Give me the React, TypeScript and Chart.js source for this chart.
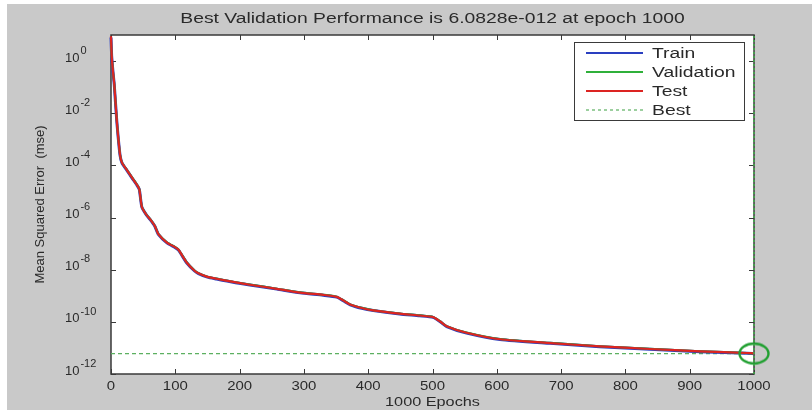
import React, { useEffect, useRef } from 'react';
import { Chart, registerables } from 'chart.js';

Chart.register(...registerables);

const TITLE = 'Best Validation Performance is 6.0828e-012 at epoch 1000';
const X_LABEL = '1000 Epochs';
const Y_LABEL = 'Mean Squared Error  (mse)';
const LEGEND_LABELS = ['Train', 'Validation', 'Test', 'Best'];

const epochs = [0, 1, 2, 3, 5, 7, 9, 11, 14, 17, 25, 33, 40, 44, 48, 55, 61, 68, 74, 87, 100, 105, 118, 130, 136, 150, 164, 190, 216, 258, 294, 330, 351, 362, 372, 390, 408, 449, 480, 501, 512, 522, 553, 605, 683, 760, 838, 916, 989, 1000];

const trainMse = [8, 1.6, 0.8, 0.4, 0.13, 0.025, 5e-3, 1.3e-3, 2.5e-4, 1.26e-4, 6.3e-5, 3.2e-5, 1.8e-5, 1.2e-5, 2.5e-6, 1.26e-6, 8.3e-7, 4.7e-7, 2.2e-7, 1.07e-7, 7e-8, 5.6e-8, 1.8e-8, 8.9e-9, 7.1e-9, 5.2e-9, 4.4e-9, 3.3e-9, 2.6e-9, 1.8e-9, 1.3e-9, 1.05e-9, 8.9e-10, 6.3e-10, 4.5e-10, 3.3e-10, 2.7e-10, 2.0e-10, 1.7e-10, 1.48e-10, 1.0e-10, 6.6e-11, 3.7e-11, 2.1e-11, 1.5e-11, 1.12e-11, 8.9e-12, 7.2e-12, 6.3e-12, 6.0e-12];

const validationMse = [7, 1.5, 0.85, 0.42, 0.14, 0.027, 5.3e-3, 1.4e-3, 2.7e-4, 1.3e-4, 6.6e-5, 3.4e-5, 1.9e-5, 1.25e-5, 2.6e-6, 1.3e-6, 8.7e-7, 4.9e-7, 2.3e-7, 1.12e-7, 7.3e-8, 5.9e-8, 1.9e-8, 9.3e-9, 7.4e-9, 5.4e-9, 4.6e-9, 3.45e-9, 2.7e-9, 1.88e-9, 1.36e-9, 1.1e-9, 9.3e-10, 6.6e-10, 4.7e-10, 3.45e-10, 2.8e-10, 2.1e-10, 1.78e-10, 1.55e-10, 1.05e-10, 6.9e-11, 3.9e-11, 2.2e-11, 1.57e-11, 1.17e-11, 9.3e-12, 7.5e-12, 6.4e-12, 6.0828e-12];

const testMse = [9, 1.7, 0.78, 0.41, 0.135, 0.026, 5.1e-3, 1.35e-3, 2.6e-4, 1.28e-4, 6.5e-5, 3.3e-5, 1.85e-5, 1.22e-5, 2.55e-6, 1.28e-6, 8.5e-7, 4.8e-7, 2.25e-7, 1.1e-7, 7.2e-8, 5.8e-8, 1.85e-8, 9.1e-9, 7.3e-9, 5.3e-9, 4.5e-9, 3.4e-9, 2.65e-9, 1.85e-9, 1.33e-9, 1.08e-9, 9.1e-10, 6.5e-10, 4.6e-10, 3.4e-10, 2.75e-10, 2.05e-10, 1.75e-10, 1.52e-10, 1.03e-10, 6.8e-11, 3.8e-11, 2.15e-11, 1.54e-11, 1.15e-11, 9.1e-12, 7.4e-12, 6.4e-12, 6.2e-12];

const BEST_EPOCH = 1000;
const BEST_VALUE = 6.0828e-12;

const xTicks = [0, 100, 200, 300, 400, 500, 600, 700, 800, 900, 1000];
const yTickExponents = [0, -2, -4, -6, -8, -10, -12];
const Y_MIN = 1e-12;
const Y_MAX = 10;

const W = 812;
const H = 417;
const FONT = '"Liberation Sans", Arial, Helvetica, sans-serif';
const BG = '#c9c9c9';
const TEXT = '#2a2a2a';
const AXIS = '#3a3a3a';
const BLUE = '#2a3fc0';
const GREEN = '#2fb03a';
const BEST_GREEN = '#5cb060';
const RED = '#dc2422';

function stretchText(ctx: CanvasRenderingContext2D, text: string, x: number, y: number, sx: number, align: CanvasTextAlign) {
  ctx.save();
  ctx.translate(x, y);
  ctx.scale(sx, 1);
  ctx.textAlign = align;
  ctx.fillText(text, 0, 0);
  ctx.restore();
}

function makeEllipseMarker(): HTMLCanvasElement {
  const c = document.createElement('canvas');
  c.width = 34;
  c.height = 26;
  const g = c.getContext('2d');
  if (g) {
    g.strokeStyle = '#22a032';
    g.lineWidth = 2.4;
    g.beginPath();
    g.ellipse(17, 13, 14.5, 10, 0, 0, Math.PI * 2);
    g.stroke();
  }
  return c;
}

const overlay = {
  id: 'matlabOverlay',
  beforeDraw(chart: any) {
    const ctx = chart.ctx;
    const { left, top, right, bottom } = chart.chartArea;
    ctx.save();
    ctx.fillStyle = '#ffffff';
    ctx.fillRect(0, 0, W, H);
    ctx.fillStyle = BG;
    ctx.fillRect(7, 4, W - 7, H - 11);
    ctx.fillStyle = '#ffffff';
    ctx.fillRect(left, top, right - left, bottom - top);
    ctx.restore();
  },
  beforeDatasetsDraw(chart: any) {
    const ctx = chart.ctx;
    const { left, top, right, bottom } = chart.chartArea;
    const xs = chart.scales.x;
    const ys = chart.scales.y;
    ctx.save();
    ctx.strokeStyle = AXIS;
    ctx.lineWidth = 1.5;
    ctx.strokeRect(left, top, right - left, bottom - top);
    ctx.lineWidth = 1;
    ctx.beginPath();
    xTicks.forEach((t) => {
      const px = Math.round(xs.getPixelForValue(t)) + 0.5;
      ctx.moveTo(px, bottom);
      ctx.lineTo(px, bottom - 5);
      ctx.moveTo(px, top);
      ctx.lineTo(px, top + 5);
    });
    yTickExponents.forEach((e) => {
      const py = Math.round(ys.getPixelForValue(Math.pow(10, e))) + 0.5;
      ctx.moveTo(left, py);
      ctx.lineTo(left + 5, py);
      ctx.moveTo(right, py);
      ctx.lineTo(right - 5, py);
    });
    ctx.stroke();
    ctx.restore();
  },
  afterDraw(chart: any) {
    const ctx = chart.ctx;
    const { left, top, right, bottom } = chart.chartArea;
    const xs = chart.scales.x;
    const ys = chart.scales.y;
    ctx.save();
    ctx.fillStyle = TEXT;
    ctx.textBaseline = 'middle';

    // title
    ctx.font = `14px ${FONT}`;
    stretchText(ctx, TITLE, (left + right) / 2, 19, 1.38, 'center');

    // x tick labels
    ctx.font = `13px ${FONT}`;
    xTicks.forEach((t) => {
      stretchText(ctx, String(t), xs.getPixelForValue(t), bottom + 12, 1.15, 'center');
    });
    // x label
    ctx.font = `13px ${FONT}`;
    stretchText(ctx, X_LABEL, (left + right) / 2, bottom + 28, 1.25, 'center');

    // y tick labels
    yTickExponents.forEach((e) => {
      const py = ys.getPixelForValue(Math.pow(10, e));
      ctx.font = `13px ${FONT}`;
      ctx.textAlign = 'left';
      ctx.fillText('10', 65, py - 3);
      const w = ctx.measureText('10').width;
      ctx.font = `10px ${FONT}`;
      stretchText(ctx, String(e), 65 + w + 1, py - 10, 1.1, 'left');
    });

    // y label
    ctx.save();
    ctx.translate(40, (top + bottom) / 2);
    ctx.rotate(-Math.PI / 2);
    ctx.textAlign = 'center';
    ctx.font = `13px ${FONT}`;
    ctx.fillText(Y_LABEL, 0, 0);
    ctx.restore();

    // legend
    const lx = 574, ly = 42, lw = 170, lh = 78;
    ctx.fillStyle = '#ffffff';
    ctx.fillRect(lx, ly, lw, lh);
    ctx.strokeStyle = AXIS;
    ctx.lineWidth = 1;
    ctx.strokeRect(lx + 0.5, ly + 0.5, lw, lh);
    const colors = [BLUE, GREEN, RED, BEST_GREEN];
    LEGEND_LABELS.forEach((label, i) => {
      const y = ly + 11 + i * 19;
      ctx.strokeStyle = colors[i];
      ctx.lineWidth = i === 3 ? 1.2 : 2;
      ctx.setLineDash(i === 3 ? [3, 3] : []);
      ctx.beginPath();
      ctx.moveTo(586, y);
      ctx.lineTo(643, y);
      ctx.stroke();
      ctx.setLineDash([]);
      ctx.fillStyle = TEXT;
      ctx.font = `14px ${FONT}`;
      stretchText(ctx, label, 652, y + 1, 1.38, 'left');
    });
    ctx.restore();
  },
};

export default function App() {
  const ref = useRef<HTMLCanvasElement | null>(null);
  useEffect(() => {
    document.body.style.margin = '0';
    const canvas = ref.current;
    if (!canvas) return;
    const toPoints = (vals: number[]) => epochs.map((e, i) => ({ x: e, y: vals[i] }));
    const marker = makeEllipseMarker();
    const chart = new Chart(canvas, {
      type: 'line',
      data: {
        datasets: [
          { label: 'Train', order: 3, data: toPoints(trainMse), borderColor: BLUE, borderWidth: 3, pointRadius: 0, tension: 0.2, clip: 2 } as any,
          { label: 'Validation', order: 2, data: toPoints(validationMse), borderColor: GREEN, borderWidth: 2, pointRadius: 0, tension: 0.2, clip: 2 } as any,
          { label: 'Test', order: 1, data: toPoints(testMse), borderColor: RED, borderWidth: 2.2, pointRadius: 0, tension: 0.2, clip: 2 } as any,
          { label: 'Best', order: 4, data: [{ x: 0, y: BEST_VALUE }, { x: BEST_EPOCH, y: BEST_VALUE }], borderColor: BEST_GREEN, borderWidth: 1.2, borderDash: [4, 3], pointRadius: 0, clip: 2 } as any,
          { label: 'BestV', order: 0, data: [{ x: BEST_EPOCH, y: Y_MIN }, { x: BEST_EPOCH, y: Y_MAX }], borderColor: '#3fae48', borderWidth: 1.5, borderDash: [2, 2], pointRadius: 0, clip: 4 } as any,
          { label: 'BestPt', order: 0, data: [{ x: BEST_EPOCH, y: BEST_VALUE }], showLine: false, pointRadius: 12, pointStyle: marker, clip: false } as any,
        ],
      },
      options: {
        responsive: false,
        animation: false,
        devicePixelRatio: 1,
        layout: { padding: { left: 0, right: 58, top: 35, bottom: 0 } },
        plugins: { legend: { display: false }, tooltip: { enabled: false }, title: { display: false } },
        scales: {
          x: {
            type: 'linear', min: 0, max: 1000,
            ticks: { display: false, stepSize: 100 },
            grid: { display: false, drawTicks: false },
            border: { display: false },
            afterFit: (s: any) => { s.height = 43; },
          },
          y: {
            type: 'logarithmic', min: Y_MIN, max: Y_MAX,
            ticks: { display: false },
            grid: { display: false, drawTicks: false },
            border: { display: false },
            afterFit: (s: any) => { s.width = 111; },
          },
        },
      },
      plugins: [overlay],
    });
    return () => chart.destroy();
  }, []);
  return (
    <div style={{ width: W, height: H }}>
      <canvas ref={ref} width={W} height={H} style={{ display: 'block' }} />
    </div>
  );
}
